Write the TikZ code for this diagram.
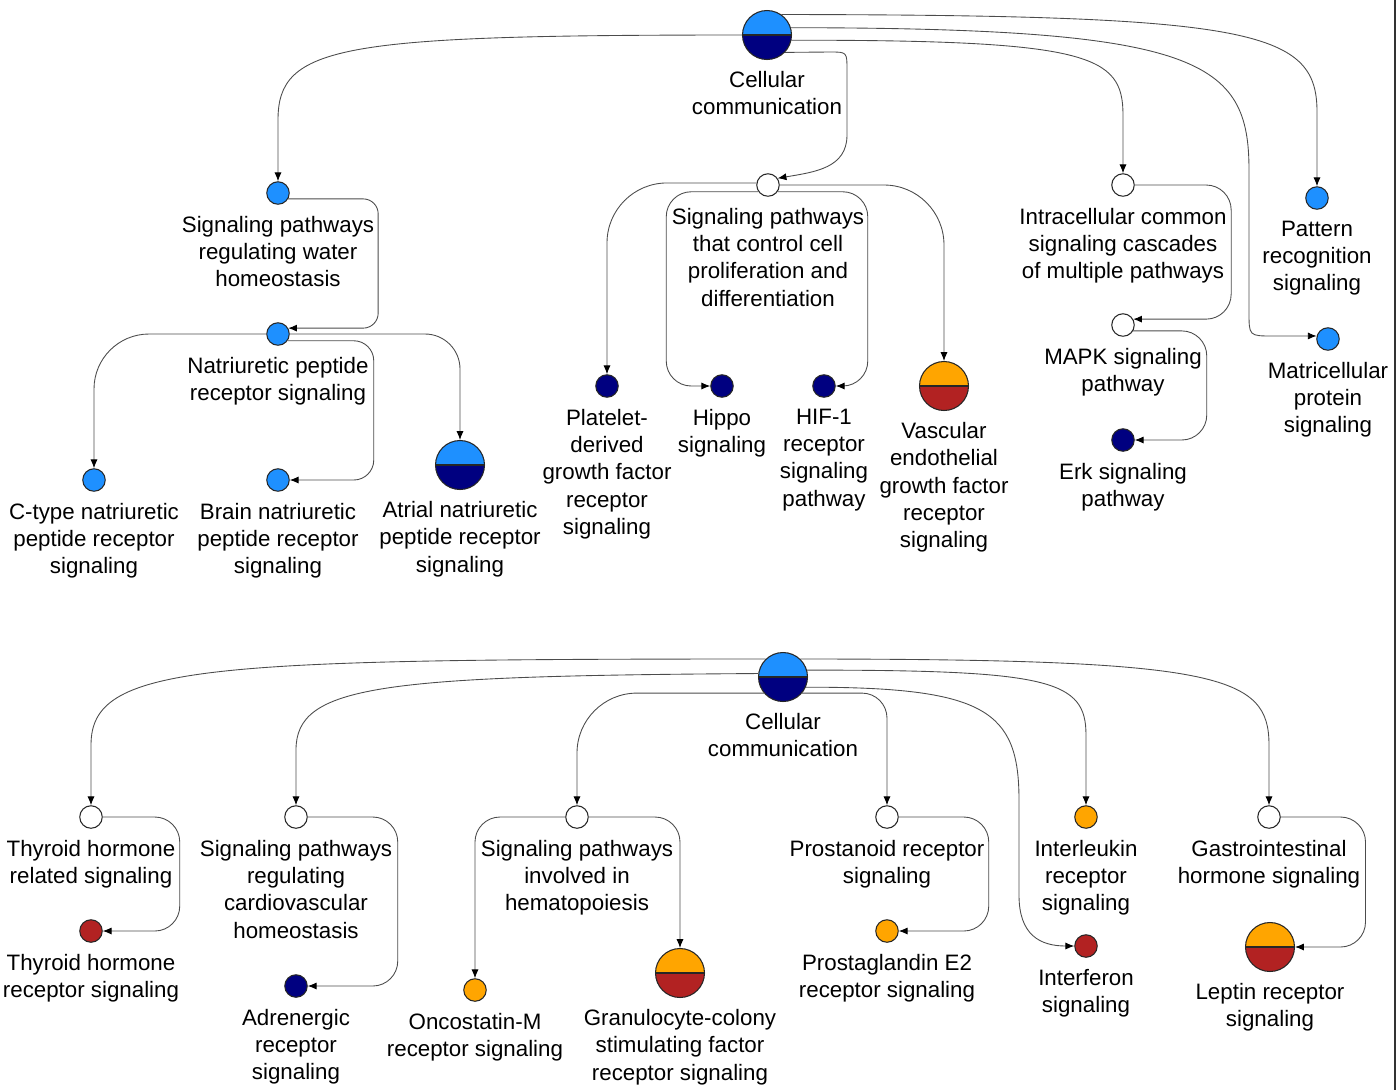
\documentclass[tikz,border=0pt]{standalone}
\usepackage{fontspec}
\setmainfont{Liberation Sans}
\usepackage{xcolor}
\usetikzlibrary{positioning}
\usetikzlibrary{arrows.meta}

\definecolor{sigblue}{RGB}{30,144,255}
\definecolor{signavy}{RGB}{0,0,128}
\definecolor{sigorange}{RGB}{255,165,0}
\definecolor{sigred}{RGB}{178,34,34}

\begin{document}
\begin{tikzpicture}[
x=0.02cm, y=-0.02cm, node distance=0.22cm,
leafnode/.style={circle, draw=black!85, line width=0.6pt, fill=#1, minimum size=0.45cm, inner sep=0pt},
hubnode/.style 2 args={circle, draw=black!85, line width=0.6pt, minimum size=0.98cm, inner sep=0pt,
  path picture={
    \fill[#1] (path picture bounding box.north west) rectangle (path picture bounding box.east);
    \fill[#2] (path picture bounding box.west) rectangle (path picture bounding box.south east);
    \draw[black!85, line width=0.6pt] (path picture bounding box.west) -- (path picture bounding box.east);}},
labeltext/.style={align=center, inner sep=0pt, font=\fontsize{12.7pt}{15.5pt}\selectfont},
edge/.style={draw=black!70, line width=0.5pt, -{Latex[length=5pt,width=4pt,color=black]}},
]
\useasboundingbox (0,0) rectangle (1397,1090);

%Nodes (upper tree)
\node[hubnode={sigblue}{signavy}]	(cc1)		at (767,35)		{};
\node[leafnode=sigblue]			(wh)		at (278,193)	{};
\node[leafnode=sigblue]			(np)		at (278,334)	{};
\node[leafnode=sigblue]			(cnp)		at (94,480)		{};
\node[leafnode=sigblue]			(bnp)		at (278,480)	{};
\node[hubnode={sigblue}{signavy}]	(anp)		at (460,465)	{};
\node[leafnode=white]			(prolif)	at (768,185)	{};
\node[leafnode=signavy]			(pdgf)		at (607,386)	{};
\node[leafnode=signavy]			(hippo)		at (722,386)	{};
\node[leafnode=signavy]			(hif)		at (824,386)	{};
\node[hubnode={sigorange}{sigred}]	(vegf)		at (944,386)	{};
\node[leafnode=white]			(intra)		at (1123,185)	{};
\node[leafnode=white]			(mapk)		at (1123,325)	{};
\node[leafnode=signavy]			(erk)		at (1123,440)	{};
\node[leafnode=sigblue]			(pattern)	at (1317,198)	{};
\node[leafnode=sigblue]			(matri)		at (1328,339)	{};

\node[labeltext] (cc1txt)		[below=of cc1]		{Cellular\\communication};
\node[labeltext] (whtxt)		[below=of wh]		{Signaling pathways\\regulating water\\homeostasis};
\node[labeltext] (nptxt)		[below=of np]		{Natriuretic peptide\\receptor signaling};
\node[labeltext] (cnptxt)		[below=of cnp]		{C-type natriuretic\\peptide receptor\\signaling};
\node[labeltext] (bnptxt)		[below=of bnp]		{Brain natriuretic\\peptide receptor\\signaling};
\node[labeltext] (anptxt)		[below=of anp]		{Atrial natriuretic\\peptide receptor\\signaling};
\node[labeltext] (prooliftxt)	[below=of prolif]	{Signaling pathways\\that control cell\\proliferation and\\differentiation};
\node[labeltext] (pdgftxt)		[below=of pdgf]		{Platelet-\\derived\\growth factor\\receptor\\signaling};
\node[labeltext] (hippotxt)		[below=of hippo]	{Hippo\\signaling};
\node[labeltext] (hiftxt)		[below=of hif]		{HIF-1\\receptor\\signaling\\pathway};
\node[labeltext] (vegftxt)		[below=of vegf]		{Vascular\\endothelial\\growth factor\\receptor\\signaling};
\node[labeltext] (intratxt)		[below=of intra]	{Intracellular common\\signaling cascades\\of multiple pathways};
\node[labeltext] (mapktxt)		[below=of mapk]		{MAPK signaling\\pathway};
\node[labeltext] (erktxt)		[below=of erk]		{Erk signaling\\pathway};
\node[labeltext] (patterntxt)	[below=of pattern]	{Pattern\\recognition\\signaling};
\node[labeltext] (matritxt)		[below=of matri]	{Matricellular\\protein\\signaling};

%Nodes (lower tree)
\node[hubnode={sigblue}{signavy}]	(cc2)		at (783,677)	{};
\node[leafnode=white]			(thyr)		at (91,817)		{};
\node[leafnode=sigred]			(thyrr)		at (91,931)		{};
\node[leafnode=white]			(cardio)	at (296,817)	{};
\node[leafnode=signavy]			(adren)		at (296,986)	{};
\node[leafnode=white]			(hema)		at (577,817)	{};
\node[leafnode=sigorange]		(osm)		at (475,990)	{};
\node[hubnode={sigorange}{sigred}]	(gcsf)		at (680,973)	{};
\node[leafnode=white]			(prost)		at (887,817)	{};
\node[leafnode=sigorange]		(pge)		at (887,931)	{};
\node[leafnode=sigorange]		(il)		at (1086,817)	{};
\node[leafnode=sigred]			(ifn)		at (1086,946)	{};
\node[leafnode=white]			(gi)		at (1269,817)	{};
\node[hubnode={sigorange}{sigred}]	(leptin)	at (1270,947)	{};

\node[labeltext] (cc2txt)		[below=of cc2]		{Cellular\\communication};
\node[labeltext] (thyrtxt)		[below=of thyr]		{Thyroid hormone\\related signaling};
\node[labeltext] (thyrrtxt)		[below=of thyrr]	{Thyroid hormone\\receptor signaling};
\node[labeltext] (cardiotxt)	[below=of cardio]	{Signaling pathways\\regulating\\cardiovascular\\homeostasis};
\node[labeltext] (adrentxt)		[below=of adren]	{Adrenergic\\receptor\\signaling};
\node[labeltext] (hematxt)		[below=of hema]		{Signaling pathways\\involved in\\hematopoiesis};
\node[labeltext] (osmtxt)		[below=of osm]		{Oncostatin-M\\receptor signaling};
\node[labeltext] (gcsftxt)		[below=of gcsf]		{Granulocyte-colony\\stimulating factor\\receptor signaling};
\node[labeltext] (prosttxt)		[below=of prost]	{Prostanoid receptor\\signaling};
\node[labeltext] (pgetxt)		[below=of pge]		{Prostaglandin E2\\receptor signaling};
\node[labeltext] (iltxt)		[below=of il]		{Interleukin\\receptor\\signaling};
\node[labeltext] (ifntxt)		[below=of ifn]		{Interferon\\signaling};
\node[labeltext] (gitxt)		[below=of gi]		{Gastrointestinal\\hormone signaling};
\node[labeltext] (leptintxt)	[below=of leptin]	{Leptin receptor\\signaling};

%Lines (upper tree)
\draw[edge] (cc1.west) .. controls (340,35) and (278,45) .. (278,120) -- (wh.north);
\draw[edge] (cc1.-44) -- (830,52) .. controls (847,52) .. (847,70) -- (847,135) .. controls (847,168) and (815,172) .. (prolif.35);
\draw[edge] (cc1.-12) .. controls (1090,40) and (1123,55) .. (1123,115) -- (intra.north);
\draw[edge] (cc1.17) .. controls (1200,28) and (1249,60) .. (1249,170) -- (1249,312) .. controls (1249,336) .. (1273,336) -- (matri.165);
\draw[edge] (cc1.55) .. controls (1250,15) and (1316,30) .. (1317,110) -- (pattern.north);

\draw[edge, rounded corners=0.3cm] (wh.-30) -| ([xshift=1.8cm]np.30) -- (np.30);
\draw[edge, rounded corners=1.1cm] (np.west) -| (cnp.north);
\draw[edge, rounded corners=0.4cm] (np.-35) -| ([xshift=1.68cm]bnp.east) -- (bnp.east);
\draw[edge, rounded corners=0.7cm] (np.east) -| (anp.north);

\draw[edge, rounded corners=1.2cm] (prolif.170) -| (pdgf.north);
\draw[edge, rounded corners=0.5cm] (prolif.-145) -| ([xshift=-0.88cm]hippo.west) -- (hippo.west);
\draw[edge, rounded corners=0.5cm] (prolif.-35) -| ([xshift=0.64cm]hif.east) -- (hif.east);
\draw[edge, rounded corners=1.2cm] (prolif.east) -| (vegf.north);

\draw[edge, rounded corners=0.5cm] (intra.east) -| ([xshift=1.96cm]mapk.30) -- (mapk.30);
\draw[edge, rounded corners=0.5cm] (mapk.-30) -| ([xshift=1.44cm]erk.east) -- (erk.east);

%Lines (lower tree)
\draw[edge] (cc2.134) .. controls (200,659) and (91,665) .. (91,745) -- (thyr.north);
\draw[edge] (cc2.172) .. controls (380,676) and (296,685) .. (296,750) -- (cardio.north);
\draw[edge, rounded corners=1.2cm] (cc2.220) -| (hema.north);
\draw[edge, rounded corners=0.5cm] (cc2.-40) -| (prost.north);
\draw[edge] (cc2.16) .. controls (1050,670) and (1086,680) .. (1086,735) -- (il.north);
\draw[edge] (cc2.46) .. controls (1220,659) and (1269,675) .. (1269,745) -- (gi.north);
\draw[edge] (cc2.-24) .. controls (985,687) and (1019,710) .. (1019,800) -- (1019,895) .. controls (1019,935) and (1040,946) .. (ifn.west);

\draw[edge, rounded corners=0.5cm] (thyr.east) -| ([xshift=1.54cm]thyrr.east) -- (thyrr.east);
\draw[edge, rounded corners=0.5cm] (cardio.east) -| ([xshift=1.8cm]adren.east) -- (adren.east);
\draw[edge, rounded corners=0.5cm] (hema.west) -| (osm.north);
\draw[edge, rounded corners=0.5cm] (hema.east) -| (gcsf.north);
\draw[edge, rounded corners=0.5cm] (prost.east) -| ([xshift=1.8cm]pge.east) -- (pge.east);
\draw[edge, rounded corners=0.5cm] (gi.east) -| ([xshift=1.41cm]leptin.east) -- (leptin.east);

%Frame edge
\draw[black!80, line width=0.8pt] (1395,0) -- (1395,1090);
\end{tikzpicture}
\end{document}
